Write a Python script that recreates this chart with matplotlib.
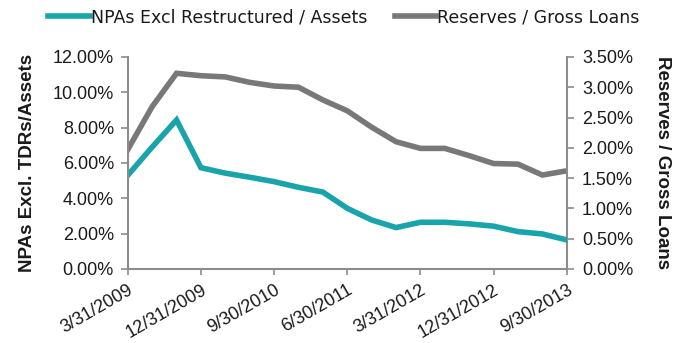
import matplotlib
matplotlib.use("Agg")
import matplotlib.pyplot as plt
from matplotlib.ticker import FuncFormatter, MultipleLocator

plt.rcParams['font.family'] = ['Liberation Sans', 'DejaVu Sans']

quarters = ["3/31/2009", "6/30/2009", "9/30/2009", "12/31/2009", "3/31/2010",
            "6/30/2010", "9/30/2010", "12/31/2010", "3/31/2011", "6/30/2011",
            "9/30/2011", "12/31/2011", "3/31/2012", "6/30/2012", "9/30/2012",
            "12/31/2012", "3/31/2013", "6/30/2013", "9/30/2013"]

npa_ratio = [5.30, 6.90, 8.43, 5.73, 5.42, 5.19, 4.94, 4.62, 4.35, 3.43,
             2.77, 2.34, 2.64, 2.64, 2.55, 2.42, 2.11, 1.98, 1.64]

reserves_ratio = [1.97, 2.68, 3.23, 3.19, 3.17, 3.08, 3.02, 3.00, 2.79, 2.61,
                  2.34, 2.10, 1.99, 1.99, 1.87, 1.74, 1.73, 1.55, 1.62]

label_every = 3

teal = "#18a4aa"
gray = "#787878"
axis_col = "#8c8c8c"
text_col = "#1a1a1a"

fig = plt.figure(figsize=(6.87, 3.43), dpi=100)
ax = fig.add_axes([0.186, 0.216, 0.639, 0.618])
ax2 = ax.twinx()

x = list(range(len(quarters)))
l1, = ax.plot(x, [v / 100 for v in npa_ratio], color=teal, lw=4,
              solid_joinstyle='miter', label="NPAs Excl Restructured / Assets")
l2, = ax2.plot(x, [v / 100 for v in reserves_ratio], color=gray, lw=4,
               solid_joinstyle='miter', label="Reserves / Gross Loans")
ax.set_zorder(ax2.get_zorder() + 1)
ax.patch.set_visible(False)

ax.set_xlim(0, len(quarters) - 1)
ax.set_ylim(0, 0.12)
ax2.set_ylim(0, 0.035)
ax.yaxis.set_major_locator(MultipleLocator(0.02))
ax2.yaxis.set_major_locator(MultipleLocator(0.005))
pct = FuncFormatter(lambda v, _: f"{v * 100:.2f}%")
ax.yaxis.set_major_formatter(pct)
ax2.yaxis.set_major_formatter(pct)

tick_pos = x[::label_every]
ax.set_xticks(tick_pos)
ax.set_xticklabels(quarters[::label_every], rotation=30, ha='right',
                   va='top', rotation_mode='anchor')

for a in (ax, ax2):
    for s in a.spines.values():
        s.set_visible(False)
ax.spines['left'].set_visible(True)
ax.spines['bottom'].set_visible(True)
ax2.spines['right'].set_visible(True)
for s in (ax.spines['left'], ax.spines['bottom'], ax2.spines['right']):
    s.set_color(axis_col)
    s.set_linewidth(1.5)

ax.tick_params(axis='y', direction='out', length=5, width=1.2, color=axis_col,
               labelsize=13, labelcolor=text_col, pad=5)
ax2.tick_params(axis='y', direction='out', length=5, width=1.2, color=axis_col,
                labelsize=13, labelcolor=text_col, pad=6)
ax.tick_params(axis='x', direction='out', length=4, width=1.2, color=axis_col,
               labelsize=13, labelcolor=text_col, pad=5)

ax.set_ylabel("NPAs Excl. TDRs/Assets", fontsize=13.5, fontweight='bold',
              color=text_col, labelpad=12)
ax2.set_ylabel("Reserves / Gross Loans", fontsize=13.5, fontweight='bold',
               color=text_col, rotation=-90, labelpad=27)

fig.legend(handles=[l1, l2], loc='center left',
           bbox_to_anchor=(48 / 687, 1 - 17 / 343), borderaxespad=0,
           borderpad=0, ncol=2, frameon=False,
           prop={'family': ['DejaVu Sans'], 'size': 12.5},
           handlelength=2.4, handletextpad=0.05, columnspacing=1.6,
           labelcolor=text_col)

fig.savefig("out.png", dpi=100, facecolor='white')
